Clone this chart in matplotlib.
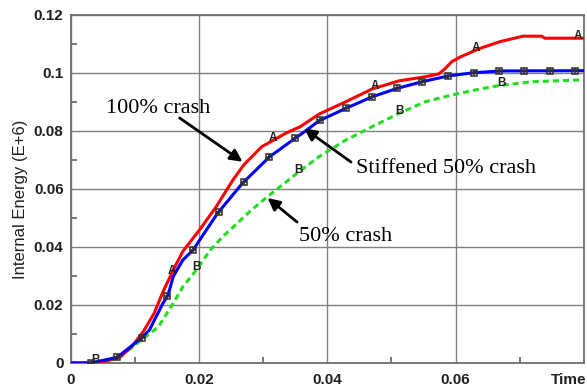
import numpy as np
import matplotlib
matplotlib.use("Agg")
import matplotlib.pyplot as plt

# 100% crash (red)
red_t = [0, 0.004, 0.0055, 0.0078, 0.0095, 0.0113, 0.013, 0.0144, 0.016, 0.0175, 0.0201,
         0.0227, 0.0253, 0.027, 0.0298, 0.0316, 0.0335, 0.0358, 0.0387, 0.0429, 0.047,
         0.0512, 0.0553, 0.0574, 0.0584, 0.0594, 0.0607, 0.0638, 0.0669, 0.0705, 0.0734,
         0.0739, 0.080]
red_e = [0, 0, 0.0006, 0.0022, 0.0055, 0.0107, 0.017, 0.0245, 0.032, 0.0385, 0.0459,
         0.0539, 0.0631, 0.0683, 0.0746, 0.0768, 0.0792, 0.0815, 0.0858, 0.0901, 0.0945,
         0.0973, 0.0987, 0.0997, 0.1016, 0.1039, 0.1055, 0.1085, 0.1108, 0.1127, 0.1127,
         0.112, 0.112]

# Stiffened 50% crash (blue)
blue_t = [0, 0.0032, 0.0073, 0.0111, 0.0123, 0.0144, 0.0152, 0.016, 0.0175, 0.0191,
          0.0229, 0.0268, 0.031, 0.0352, 0.0368, 0.0387, 0.0429, 0.047, 0.0509, 0.0548,
          0.0589, 0.0628, 0.067, 0.080]
blue_e = [0, 0, 0.002, 0.0087, 0.0114, 0.0206, 0.0234, 0.0298, 0.0355, 0.039,
          0.0516, 0.062, 0.0711, 0.0778, 0.0803, 0.0835, 0.0878, 0.0918, 0.0947, 0.097,
          0.099, 0.1001, 0.1007, 0.1008]

# 50% crash (green)
green_t = [0, 0.0037, 0.0073, 0.0111, 0.0137, 0.016, 0.0176, 0.0196, 0.0218, 0.0237,
           0.0253, 0.0279, 0.0306, 0.0358, 0.0387, 0.0429, 0.047, 0.0512, 0.0553, 0.0594,
           0.0636, 0.0669, 0.072, 0.0793]
green_e = [0, 0.0002, 0.0015, 0.008, 0.0125, 0.0206, 0.0266, 0.032, 0.039, 0.0435,
           0.0468, 0.0522, 0.0572, 0.0663, 0.0711, 0.0769, 0.0815, 0.0861, 0.0901, 0.0924,
           0.0944, 0.0957, 0.097, 0.0976]

# symbol positions along curves
red_sym_t = [0.0158, 0.0316, 0.0474, 0.0632, 0.0790]
green_sym_t = [0.0039, 0.0197, 0.0355, 0.0513, 0.0671]
blue_sym_t = [0.0032, 0.0072, 0.0111, 0.0151, 0.0191, 0.0231, 0.0270, 0.0310, 0.0350,
              0.0389, 0.0429, 0.0469, 0.0509, 0.0548, 0.0588, 0.0628, 0.0667, 0.0707,
              0.0747, 0.0786]

x_ticks = [0, 0.02, 0.04, 0.06, 0.08]
x_tick_labels = ["0", "0.02", "0.04", "0.06", ""]
y_ticks = [0, 0.02, 0.04, 0.06, 0.08, 0.1, 0.12]
y_tick_labels = ["0", "0.02", "0.04", "0.06", "0.08", "0.1", "0.12"]

fig = plt.figure(figsize=(5.87, 3.90), dpi=100)
ax = fig.add_axes([70.5 / 587, 27 / 390, (584 - 70.5) / 587, (363 - 15) / 390])

ax.plot(green_t, green_e, color="#22dd22", lw=2.2, dashes=(2.0, 1.3), zorder=3)
ax.plot(red_t, red_e, color="#ff0000", lw=2.2, zorder=4)
ax.plot(blue_t, blue_e, color="#0000ff", lw=2.2, zorder=5)

# symbols
by = np.interp(blue_sym_t, blue_t, blue_e)
ax.plot(blue_sym_t, by, ls="none", marker="s", ms=5, mfc="none", mec="#303030", mew=1.1, zorder=6)
ax.plot(blue_sym_t, by, ls="none", marker="+", ms=5, mec="#303030", mew=1.1, zorder=6)
for t in red_sym_t:
    ax.text(t, np.interp(t, red_t, red_e) + 0.0008, "A", fontsize=8.5, fontweight="bold",
            family="Liberation Sans", ha="center", va="center", color="#202020", zorder=7)
for t in green_sym_t:
    ax.text(t, np.interp(t, green_t, green_e) + 0.0008, "B", fontsize=8.5, fontweight="bold",
            family="Liberation Sans", ha="center", va="center", color="#202020", zorder=7)

ax.set_xlim(0, 0.0795)
ax.set_ylim(0, 0.12)
ax.set_xticks(x_ticks)
ax.set_xticklabels(x_tick_labels)
ax.set_yticks(y_ticks)
ax.set_yticklabels(y_tick_labels)
ax.set_xticks([0.01, 0.03, 0.05, 0.07], minor=True)
ax.set_yticks([0.01, 0.03, 0.05, 0.07, 0.09, 0.11], minor=True)
ax.tick_params(which="major", direction="in", length=0, pad=7, labelsize=11)
ax.tick_params(axis="y", which="major", pad=5)
ax.tick_params(which="minor", direction="in", length=4, width=1.2, color="#606060")
for lab in ax.get_xticklabels() + ax.get_yticklabels():
    lab.set_fontfamily("Liberation Sans")
    lab.set_fontweight("bold")
    lab.set_color("#202020")

ax.grid(True, which="major", color="#808080", lw=1.0)
for s in ax.spines.values():
    s.set_color("#707070")
    s.set_linewidth(1.3)

ax.set_ylabel("Internal Energy (E+6)", fontsize=12, family="Liberation Sans", color="#202020")
ax.yaxis.set_label_coords(-0.082, 0.471)
fig.text(586 / 587, 10 / 390, "Time", fontsize=11, fontweight="bold", family="Liberation Sans",
         ha="right", va="center", color="#202020")

# annotations
ap = dict(arrowstyle="-|>", lw=2.0, color="black", mutation_scale=18, shrinkA=0, shrinkB=0)
ax.annotate("", xy=(0.0268, 0.0694), xytext=(0.0170, 0.0845), arrowprops=ap, zorder=8)
ax.text(0.0055, 0.0862, "100% crash", fontsize=16, family="Liberation Serif", ha="left", va="baseline")
ax.annotate("", xy=(0.0364, 0.0809), xytext=(0.0437, 0.0693), arrowprops=ap, zorder=8)
ax.text(0.0445, 0.0655, "Stiffened 50% crash", fontsize=16, family="Liberation Serif", ha="left", va="baseline")
ax.annotate("", xy=(0.0307, 0.0569), xytext=(0.0353, 0.0486), arrowprops=ap, zorder=8)
ax.text(0.0356, 0.0422, "50% crash", fontsize=16, family="Liberation Serif", ha="left", va="baseline")

fig.savefig("out.png", dpi=100)
